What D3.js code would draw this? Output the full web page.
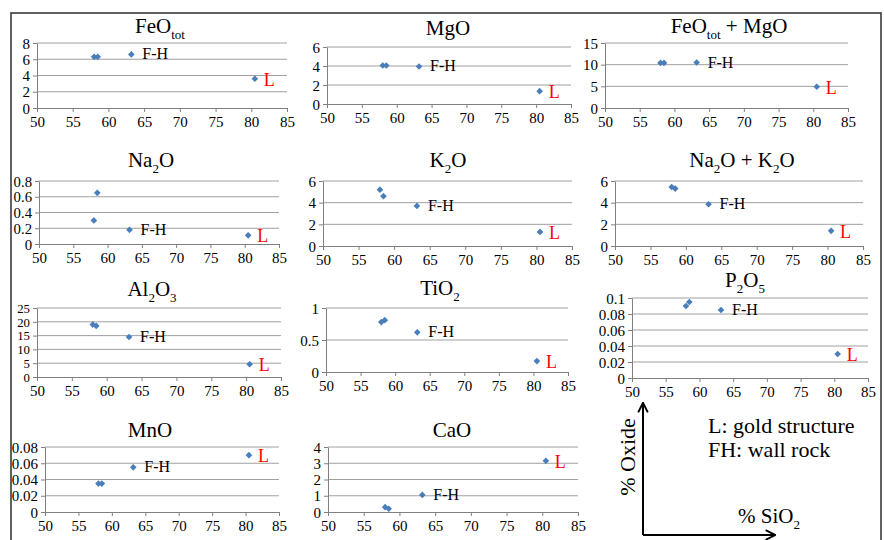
<!DOCTYPE html>
<html>
<head>
<meta charset="utf-8">
<script src="https://cdn.jsdelivr.net/npm/d3@7"></script>
<style>
  body { margin: 0; background: #fff; }
  svg text { font-family: "Liberation Serif", "Times New Roman", "DejaVu Serif", serif !important; }
</style>
</head>
<body>
<div id="chart"></div>
<script>
var width = 884, height = 540;
var serif = "'Liberation Serif', 'Times New Roman', 'DejaVu Serif', serif";

// % SiO2 of the four samples (two wall rock, F-H, L)
var sio2 = [58.0, 58.5, 63.2, 80.5];
var pointLabels = ["", "", "F-H", "L"];
var xTicks = [50, 55, 60, 65, 70, 75, 80, 85];

// % oxide, same sample order
var feoTot   = [6.3, 6.3, 6.6, 3.6];
var mgo      = [4.05, 4.05, 3.95, 1.35];
var feoMgo   = [10.4, 10.4, 10.5, 4.9];
var na2o     = [0.30, 0.65, 0.18, 0.11];
var k2o      = [5.2, 4.6, 3.7, 1.3];
var na2oK2o  = [5.45, 5.3, 3.85, 1.4];
var al2o3    = [19.0, 18.5, 14.5, 4.6];
var tio2     = [0.78, 0.81, 0.62, 0.17];
var p2o5     = [0.090, 0.095, 0.085, 0.030];
var mno      = [0.035, 0.035, 0.055, 0.070];
var cao      = [0.30, 0.20, 1.05, 3.15];

// titles as [text, isSubscript]
var panels = [
  {title: [["FeO"], ["tot", 1]], values: feoTot, yMax: 8, yStep: 2},
  {title: [["MgO"]], values: mgo, yMax: 6, yStep: 2},
  {title: [["FeO"], ["tot", 1], [" + MgO"]], values: feoMgo, yMax: 15, yStep: 5},
  {title: [["Na"], ["2", 1], ["O"]], values: na2o, yMax: 0.8, yStep: 0.2},
  {title: [["K"], ["2", 1], ["O"]], values: k2o, yMax: 6, yStep: 2},
  {title: [["Na"], ["2", 1], ["O + K"], ["2", 1], ["O"]], values: na2oK2o, yMax: 6, yStep: 2},
  {title: [["Al"], ["2", 1], ["O"], ["3", 1]], values: al2o3, yMax: 25, yStep: 5},
  {title: [["TiO"], ["2", 1]], values: tio2, yMax: 1, yStep: 0.5},
  {title: [["P"], ["2", 1], ["O"], ["5", 1]], values: p2o5, yMax: 0.1, yStep: 0.02},
  {title: [["MnO"]], values: mno, yMax: 0.08, yStep: 0.02},
  {title: [["CaO"]], values: cao, yMax: 4, yStep: 1}
];

// plot boxes for each panel
var layout = [
  {x0: 37,  x1: 287, y0: 43,  y1: 108, tx: 160, ty: 33},
  {x0: 327, x1: 571, y0: 47,  y1: 104, tx: 448, ty: 35},
  {x0: 605, x1: 848, y0: 43,  y1: 108, tx: 729, ty: 33},
  {x0: 39,  x1: 279, y0: 181, y1: 244, tx: 151, ty: 167},
  {x0: 323, x1: 572, y0: 181, y1: 246, tx: 448, ty: 167},
  {x0: 615, x1: 863, y0: 181, y1: 246, tx: 742, ty: 167},
  {x0: 37,  x1: 281, y0: 308, y1: 377, tx: 152, ty: 296},
  {x0: 326, x1: 568, y0: 308, y1: 372, tx: 440, ty: 295},
  {x0: 632, x1: 868, y0: 298, y1: 378, tx: 745, ty: 287},
  {x0: 45,  x1: 279, y0: 447, y1: 512, tx: 150, ty: 437},
  {x0: 328, x1: 578, y0: 447, y1: 512, tx: 452, ty: 437}
];

var svg = d3.select("#chart").append("svg")
  .attr("width", width)
  .attr("height", height)
  .attr("font-family", serif);

// outer frame
svg.append("rect")
  .attr("x", 11).attr("y", 13)
  .attr("width", 870).attr("height", 560)
  .style("fill", "none")
  .style("stroke", "#3a3a3a")
  .style("stroke-width", 1.6);

function fmt(v) { return String(+v.toFixed(4)); }

// text with subscript parts
function addRich(sel, parts, size) {
  var dyAcc = 0;
  parts.forEach(function(p) {
    var want = p[1] ? size * 0.28 : 0;
    var t = sel.append("tspan")
      .attr("dy", want - dyAcc)
      .style("font-family", serif)
      .text(p[0]);
    if (p[1]) t.style("font-size", (size * 0.62) + "px");
    dyAcc = want;
  });
}

var diamond = d3.symbol().type(d3.symbolSquare).size(22);

panels.forEach(function(p, i) {
  var L = layout[i];
  var x = d3.scaleLinear().domain([50, 85]).range([L.x0, L.x1]);
  var y = d3.scaleLinear().domain([0, p.yMax]).range([L.y1, L.y0]);
  var yTicks = d3.range(0, p.yMax + p.yStep / 2, p.yStep);
  var pts = p.values.map((v, k) => ({x: sio2[k], y: v, label: pointLabels[k]}));
  // tight tick spacing gets a slightly smaller label
  var spacing = y(0) - y(p.yStep);
  var ySize = Math.min(15, spacing - 1);

  var g = svg.append("g");

  // gridlines
  g.selectAll(".grid")
    .data(yTicks.slice(1))
    .enter()
    .append("line")
    .attr("x1", L.x0).attr("x2", L.x1)
    .attr("y1", d => y(d)).attr("y2", d => y(d))
    .style("stroke", "#a0a0a0")
    .style("stroke-width", 1);

  var xa = g.append("g")
    .attr("transform", "translate(0," + L.y1 + ")")
    .call(d3.axisBottom(x).tickValues(xTicks).tickSize(4).tickSizeOuter(0).tickPadding(4).tickFormat(fmt));

  var ya = g.append("g")
    .attr("transform", "translate(" + L.x0 + ",0)")
    .call(d3.axisLeft(y).tickValues(yTicks).tickSize(4).tickSizeOuter(0).tickPadding(3).tickFormat(fmt));

  [xa, ya].forEach(function(a) {
    a.attr("font-family", serif).attr("font-size", null);
    a.select(".domain").style("stroke", "#808080");
    a.selectAll(".tick line").style("stroke", "#808080");
    a.selectAll(".tick text")
      .style("font-family", serif)
      .style("font-size", "15px")
      .style("fill", "#000");
  });
  ya.selectAll(".tick text")
    .style("font-size", ySize + "px")
    .attr("dy", "0.34em");

  // title
  var t = g.append("text")
    .attr("x", L.tx).attr("y", L.ty)
    .attr("text-anchor", "middle")
    .style("font-family", serif)
    .style("font-size", "21px");
  addRich(t, p.title, 21);

  // points
  g.selectAll(".pt")
    .data(pts)
    .enter()
    .append("path")
    .attr("d", diamond)
    .attr("transform", d => "translate(" + x(d.x) + "," + y(d.y) + ") rotate(45)")
    .style("fill", "#4a7ebb");

  // sample labels
  g.selectAll(".lbl")
    .data(pts.filter(d => d.label !== ""))
    .enter()
    .append("text")
    .attr("x", d => x(d.x) + (d.label === "L" ? 9 : 11))
    .attr("y", d => y(d.y) + (d.label === "L" ? 7 : 5))
    .style("font-family", serif)
    .style("font-size", d => d.label === "L" ? "18px" : "16px")
    .style("fill", d => d.label === "L" ? "#ff0000" : "#000")
    .text(d => d.label);
});

// key panel
svg.append("defs").append("marker")
  .attr("id", "arrow")
  .attr("viewBox", "0 0 10 10")
  .attr("refX", 8).attr("refY", 5)
  .attr("markerWidth", 6).attr("markerHeight", 6)
  .attr("orient", "auto")
  .append("path")
  .attr("d", "M1,1 L9,5 L1,9")
  .style("fill", "none")
  .style("stroke", "#000")
  .style("stroke-width", 1.6);

var key = svg.append("g");
key.append("line")
  .attr("x1", 643).attr("y1", 535).attr("x2", 643).attr("y2", 404)
  .style("stroke", "#000").style("stroke-width", 2)
  .attr("marker-end", "url(#arrow)");
key.append("line")
  .attr("x1", 643).attr("y1", 535).attr("x2", 774).attr("y2", 535)
  .style("stroke", "#000").style("stroke-width", 2)
  .attr("marker-end", "url(#arrow)");

key.append("text")
  .attr("transform", "translate(635,457) rotate(-90)")
  .attr("text-anchor", "middle")
  .style("font-family", serif)
  .style("font-size", "22px")
  .text("% Oxide");

key.append("text").attr("x", 708).attr("y", 433)
  .style("font-family", serif).style("font-size", "22px").text("L: gold structure");
key.append("text").attr("x", 708).attr("y", 457)
  .style("font-family", serif).style("font-size", "22px").text("FH: wall rock");

var si = key.append("text").attr("x", 738).attr("y", 523)
  .style("font-family", serif).style("font-size", "21px");
addRich(si, [["% SiO"], ["2", 1]], 21);
</script>
</body>
</html>
